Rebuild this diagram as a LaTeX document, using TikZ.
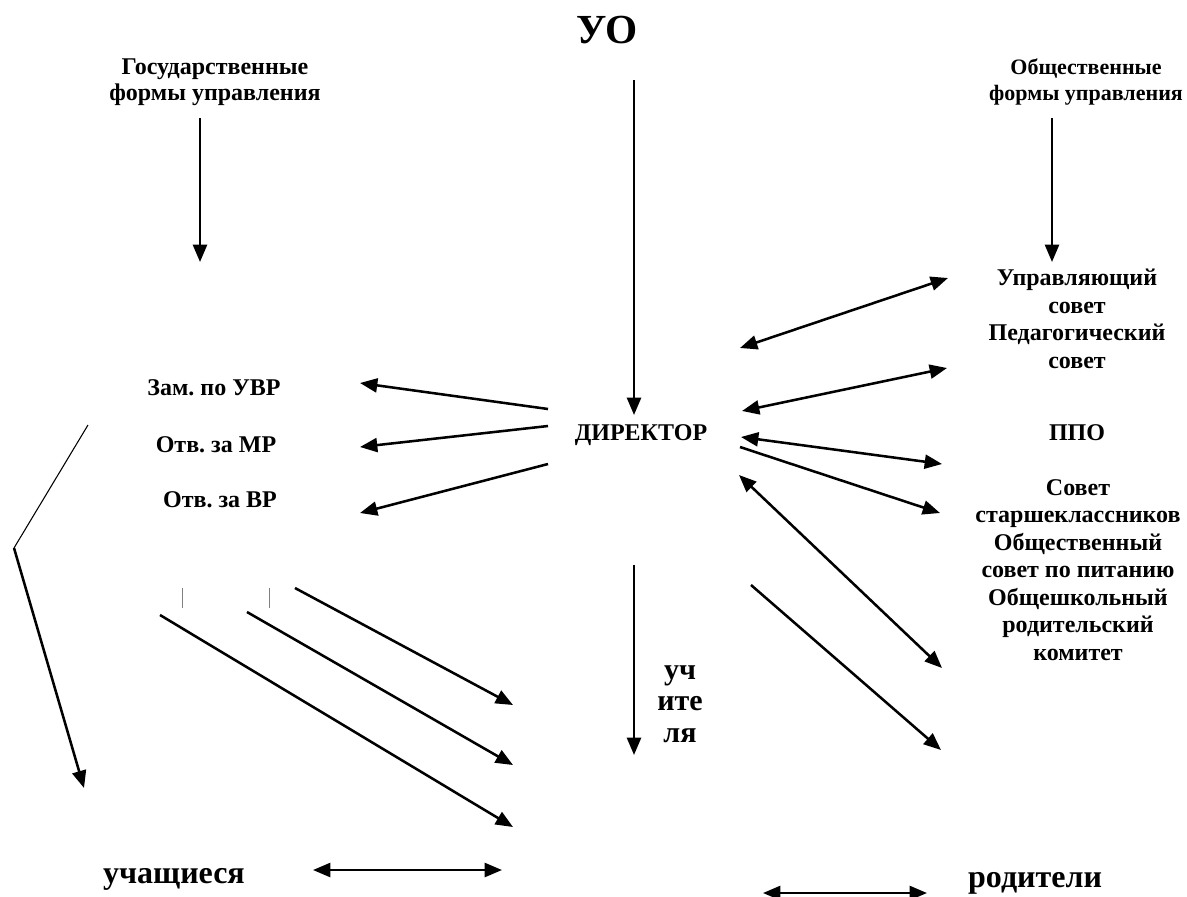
\documentclass[tikz,border=0pt]{standalone}
\usepackage{fontspec}
\setmainfont{Liberation Serif}
\usetikzlibrary{arrows.meta}
\frenchspacing
\begin{document}
\begin{tikzpicture}[x=0.75pt,y=-0.75pt,
  lbl/.style={font=\bfseries\fontsize{18}{20.6}\selectfont, align=center, inner sep=0pt, anchor=base},
  big/.style={font=\bfseries\fontsize{24}{28}\selectfont, inner sep=0pt, anchor=base},
  tip/.tip={Triangle[length=13pt,width=10.5pt]},
  con/.style={line width=1.9pt, -tip},
  dcon/.style={line width=1.9pt, tip-tip},
  thinline/.style={line width=0.8pt},
  bar/.style={line width=0.7pt, gray}
]
\useasboundingbox (0,0) rectangle (1187,896);

% texts (base anchor = baseline of last line)
\node[big, font=\bfseries\fontsize{31}{36}\selectfont] (uo) at (607,43) {УО};
\node[lbl, font=\bfseries\fontsize{18}{19.5}\selectfont] (gos) at (215,100) {Государственные\\формы управления};
\node[lbl, font=\bfseries\fontsize{16.5}{19.5}\selectfont] (obsh) at (1086,100) {Общественные\\формы управления};
\node[lbl] (us) at (1077,368) {Управляющий\\совет\\Педагогический\\совет};
\node[lbl] (ppo) at (1077,440) {ППО};
\node[lbl] (sov) at (1078,660) {Совет\\старшеклассников\\Общественный\\совет по питанию\\Общешкольный\\родительский\\комитет};
\node[lbl] (zam) at (214,395) {Зам. по УВР};
\node[lbl] (mr) at (216,452) {Отв. за МР};
\node[lbl] (vr) at (220,507) {Отв. за ВР};
\node[lbl] (dir) at (641,440) {ДИРЕКТОР};
\node[lbl, font=\bfseries\fontsize{22.5}{23.5}\selectfont] (uchit) at (680,742) {уч\\ите\\ля};
\node[big] (pupils) at (174,883) {учащиеся};
\node[big] (parents) at (1035,887) {родители};

% endpoints
\coordinate (g1) at (200,118); \coordinate (g2) at (200,262);
\coordinate (o1) at (1052,118); \coordinate (o2) at (1052,262);
\coordinate (u1) at (634,80); \coordinate (u2) at (634,415);
\coordinate (dz) at (548,409); \coordinate (zt) at (360,383);
\coordinate (dm) at (548,426); \coordinate (mt) at (360,447);
\coordinate (dv) at (548,464); \coordinate (vt) at (360,513);
\coordinate (r1a) at (740,348); \coordinate (r1b) at (948,278);
\coordinate (r2a) at (742,411); \coordinate (r2b) at (947,368);
\coordinate (r3a) at (741,437); \coordinate (r3b) at (942,464);
\coordinate (r4a) at (740,447); \coordinate (r4b) at (940,513);
\coordinate (r5a) at (739,475); \coordinate (r5b) at (942,668);
\coordinate (r6a) at (751,585); \coordinate (r6b) at (941,750);
\coordinate (t1) at (634,565); \coordinate (t2) at (634,755);
\coordinate (l1a) at (295,588); \coordinate (l1b) at (513,705);
\coordinate (l2a) at (247,612); \coordinate (l2b) at (513,765);
\coordinate (l3a) at (160,615); \coordinate (l3b) at (513,827);
\coordinate (b1a) at (182,588); \coordinate (b1b) at (182,608);
\coordinate (b2a) at (269,588); \coordinate (b2b) at (269,608);
\coordinate (k1) at (88,425); \coordinate (k2) at (14,548); \coordinate (k3) at (84,788);
\coordinate (p1) at (313,870); \coordinate (p2) at (502,870);
\coordinate (q1) at (763,893); \coordinate (q2) at (927,893);

% connectors
\draw[con] (g1) -- (g2);
\draw[con] (o1) -- (o2);
\draw[con] (u1) -- (u2);
\draw[con] (dz) -- (zt);
\draw[con] (dm) -- (mt);
\draw[con] (dv) -- (vt);
\draw[dcon] (r1a) -- (r1b);
\draw[dcon] (r2a) -- (r2b);
\draw[dcon] (r3a) -- (r3b);
\draw[con] (r4a) -- (r4b);
\draw[dcon] (r5a) -- (r5b);
\draw[con] (r6a) -- (r6b);
\draw[con] (t1) -- (t2);
\draw[con] (l1a) -- (l1b);
\draw[con] (l2a) -- (l2b);
\draw[con] (l3a) -- (l3b);
\draw[bar] (b1a) -- (b1b);
\draw[bar] (b2a) -- (b2b);
\draw[thinline] (k1) -- (k2);
\draw[con] (k2) -- (k3);
\draw[dcon] (p1) -- (p2);
\draw[dcon] (q1) -- (q2);
\end{tikzpicture}
\end{document}
